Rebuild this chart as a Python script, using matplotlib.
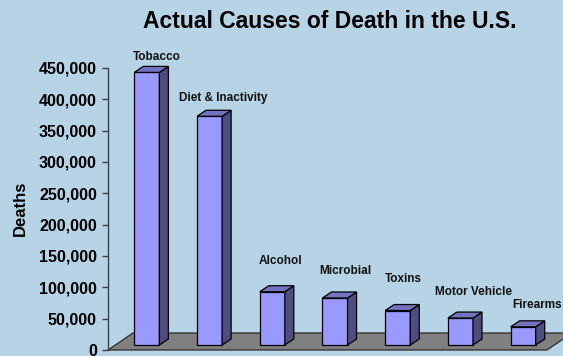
import numpy as np
import matplotlib
matplotlib.use('Agg')
import matplotlib.pyplot as plt
from matplotlib.patches import Polygon
from matplotlib.ticker import FuncFormatter

causes = ['Tobacco', 'Diet & Inactivity', 'Alcohol', 'Microbial', 'Toxins',
          'Motor Vehicle', 'Firearms']
deaths = [435000, 365000, 85000, 75000, 55000, 43000, 29000]
yticks = [0, 50000, 100000, 150000, 200000, 250000, 300000, 350000, 400000, 450000]

# label nudges (pixels) relative to the bar's base point
label_dx = [17.5, 21.5, 15.5, 17.5, 13.5, 20.5, 21.5]
label_dy = [20, 23, 36, 32, 37, 31, 27]

BG = '#B6D4E5'
FRONT = '#9999FF'
SIDE = '#4D4D80'
TOP = '#7373C0'
FLOOR = '#808080'

plt.rcParams['font.family'] = ['Liberation Sans', 'DejaVu Sans']

W, H = 563, 356
fig = plt.figure(figsize=(W / 100, H / 100), dpi=100, facecolor=BG)
ax_left, ax_right, ax_bottom, ax_top = 108, 547, 350, 68
ax = fig.add_axes([ax_left / W, 1 - ax_bottom / H,
                   (ax_right - ax_left) / W, (ax_bottom - ax_top) / H])
ax.set_facecolor('none')
ax.set_xlim(-0.5, len(causes) - 0.5)
ax.set_ylim(0, 450000)

# pixel -> data units
px_x = (len(causes)) / (ax_right - ax_left)
px_y = 450000 / (ax_bottom - ax_top)


def shift(x, y, dx, dy):
    return (x + dx * px_x, y + dy * px_y)


# floor
floor_dx, floor_dy = 25, 17
x0, x1 = -0.5, len(causes) - 0.5
floor = Polygon([(x0, 0), (x1, 0), shift(x1, 0, floor_dx, floor_dy),
                 shift(x0, 0, floor_dx, floor_dy)],
                closed=True, facecolor=FLOOR, edgecolor='#2b2b2b', lw=0.9,
                clip_on=False, zorder=1)
ax.add_patch(floor)

# bars
fdx, fdy = 7.5, 5
bdx, bdy = 16.5, 11
bw = 0.4
for i, v in enumerate(deaths):
    l, r = i - bw / 2, i + bw / 2
    fl_b = shift(l, 0, fdx, fdy)
    fr_b = shift(r, 0, fdx, fdy)
    fr_t = shift(r, v, fdx, fdy)
    fl_t = shift(l, v, fdx, fdy)
    br_b = shift(r, 0, bdx, bdy)
    br_t = shift(r, v, bdx, bdy)
    bl_t = shift(l, v, bdx, bdy)
    ax.add_patch(Polygon([fl_b, fr_b, fr_t, fl_t], closed=True, facecolor=FRONT,
                         edgecolor='black', lw=0.9, clip_on=False, zorder=3))
    ax.add_patch(Polygon([fr_b, br_b, br_t, fr_t], closed=True, facecolor=SIDE,
                         edgecolor='black', lw=0.9, clip_on=False, zorder=3))
    ax.add_patch(Polygon([fl_t, fr_t, br_t, bl_t], closed=True, facecolor=TOP,
                         edgecolor='black', lw=0.9, clip_on=False, zorder=3))
    ax.annotate(causes[i], xy=(i, v), xytext=(label_dx[i], label_dy[i]),
                textcoords='offset pixels', ha='center', va='center',
                fontsize=8.5, fontweight='bold', color='#111111',
                annotation_clip=False, zorder=4)

# axes styling
for s in ['top', 'right', 'bottom']:
    ax.spines[s].set_visible(False)
ax.spines['left'].set_color('#404040')
ax.spines['left'].set_linewidth(1.0)
ax.set_xticks([])
ax.set_yticks(yticks)
ax.yaxis.set_major_formatter(FuncFormatter(lambda v, p: f'{int(v):,}'))
ax.tick_params(axis='y', direction='out', length=4, width=1.0, color='#404040',
               pad=4, labelsize=11.5)
for t in ax.get_yticklabels():
    t.set_fontweight('bold')

fig.text(20 / W, 1 - 208 / H, 'Deaths', rotation=90, ha='center', va='center',
         fontsize=12, fontweight='bold')
fig.text(330 / W, 1 - 21 / H, 'Actual Causes of Death in the U.S.', ha='center',
         va='center', fontsize=16.5, fontweight='bold')

fig.savefig('out.png', dpi=100, facecolor=BG)
